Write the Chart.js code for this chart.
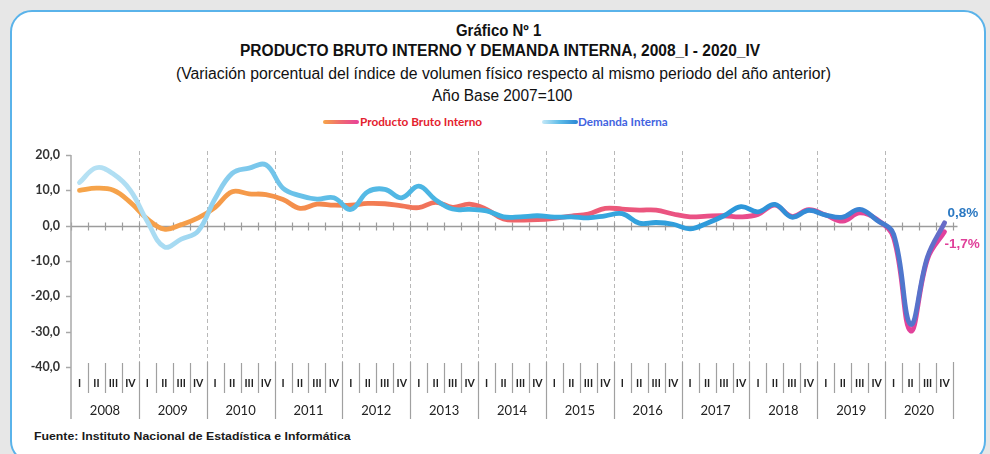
<!DOCTYPE html>
<html>
<head>
<meta charset="utf-8">
<script src="https://cdn.jsdelivr.net/npm/chart.js@4.4.1/dist/chart.umd.min.js"></script>
<style>
html,body{margin:0;padding:0;background:#e7e7e7;width:990px;height:454px;overflow:hidden;}
#card{position:absolute;left:10px;top:10px;width:976px;height:453px;background:#fff;border:2px solid #5ab3ea;border-radius:22px;box-sizing:border-box;}
#cv{position:absolute;left:0;top:0;}
.t{position:absolute;white-space:nowrap;transform-origin:0 0;line-height:1.15;}
.nar{font-family:'Liberation Sans Narrow','Arial Narrow','Liberation Sans',Arial,sans-serif;color:#111;}
.leg{font-family:Lato,'Open Sans',sans-serif;font-weight:bold;font-size:11px;}
.sw{position:absolute;height:4px;border-radius:2px;}
</style>
</head>
<body>
<div id="card"></div>
<span class="t nar" style="font-weight:bold;font-size:16px" data-x="456" data-cy="31" data-w="85">Gráfico Nº 1</span>
<span class="t nar" style="font-weight:bold;font-size:16px" data-x="240" data-cy="51" data-w="520">PRODUCTO BRUTO INTERNO Y DEMANDA INTERNA, 2008_I - 2020_IV</span>
<span class="t nar" style="font-size:16px" data-x="176" data-cy="74" data-w="655">(Variación porcentual del índice de volumen físico respecto al mismo periodo del año anterior)</span>
<span class="t nar" style="font-size:16px" data-x="432" data-cy="96" data-w="140">Año Base 2007=100</span>
<div class="sw" style="left:323px;top:120px;width:36px;background:linear-gradient(90deg,#f6a548,#ef6a70,#e8409a);"></div>
<span class="t leg" style="color:#e4222e" data-x="360" data-cy="122" data-w="122">Producto Bruto Interno</span>
<div class="sw" style="left:542px;top:120px;width:36px;background:linear-gradient(90deg,#c4e8f7,#5cbbe8,#2a86d4);"></div>
<span class="t leg" style="color:#4263df" data-x="578" data-cy="122" data-w="90">Demanda Interna</span>
<span class="t" style="font-family:'Liberation Sans',Arial,sans-serif;font-weight:bold;font-size:10.5px;color:#1a1a1a" data-x="34" data-cy="436" data-w="317">Fuente: Instituto Nacional de Estadística e Informática</span>
<canvas id="cv" width="990" height="454"></canvas>
<script>
// ---- data ----
const years = ['2008','2009','2010','2011','2012','2013','2014','2015','2016','2017','2018','2019','2020'];
const quarterNames = ['I','II','III','IV'];
const yTicks = [-40,-30,-20,-10,0,10,20];
const pbi = [
  10.0, 10.6, 10.0, 6.6,
  1.9, -1.0, 0.3, 2.2,
  5.2, 9.6, 9.0, 8.8,
  7.4, 4.9, 6.1, 5.8,
  5.8, 6.3, 6.2, 5.6,
  5.1, 6.6, 5.2, 6.1,
  4.6, 1.9, 1.6, 1.7,
  2.1, 2.7, 3.3, 4.9,
  4.7, 4.4, 4.4, 3.3,
  2.5, 2.7, 2.8, 2.5,
  3.2, 5.8, 2.6, 4.5,
  3.0, 1.3, 3.6, 1.8,
  -3.4, -29.8, -9.4, -1.7
];
const demanda = [
  12.2, 16.4, 14.6, 10.0,
  1.2, -6.0, -3.8, -1.5,
  7.7, 14.8, 16.3, 17.2,
  10.6, 8.5, 7.5, 7.9,
  4.6, 9.6, 10.3, 7.9,
  11.2, 7.3, 4.7, 4.6,
  4.2, 2.5, 2.5, 2.8,
  2.4, 2.5, 2.2, 2.8,
  3.4, 0.7, 0.9, 0.4,
  -0.9, 0.7, 2.8, 5.4,
  3.9, 6.0, 2.4, 4.3,
  3.0, 2.4, 4.6, 1.6,
  -2.4, -27.9, -8.8, 0.8
];
const endLabels = ['-1,7%', '0,8%'];

// ---- build ----
const categories = [];
years.forEach(y => quarterNames.forEach(q => categories.push(q)));

// fit texts
document.querySelectorAll('.t').forEach(el => {
  const w = el.offsetWidth, h = el.offsetHeight;
  const tw = parseFloat(el.dataset.w);
  el.style.left = el.dataset.x + 'px';
  el.style.top = (parseFloat(el.dataset.cy) - h / 2) + 'px';
  el.style.transform = 'scaleX(' + (tw / w) + ')';
});

function grad(chart, stops, fb) {
  const ca = chart.chartArea;
  if (!ca) return fb;
  const g = chart.ctx.createLinearGradient(ca.left, 0, ca.right, 0);
  stops.forEach(s => g.addColorStop(s[0], s[1]));
  return g;
}
const pbiStops = [[0,'#f6a54a'],[0.2,'#f59a4a'],[0.32,'#f3804f'],[0.45,'#ef6b62'],[0.6,'#ec5a78'],[0.8,'#e84a90'],[1,'#e0409e']];
const ddStops = [[0,'#b8e2f4'],[0.12,'#a6daf2'],[0.2,'#7cc8ec'],[0.3,'#5bbce6'],[0.5,'#3caee0'],[0.75,'#2c98da'],[0.9,'#3a82d2'],[1,'#6c68c6']];

function line(ctx, x1, y1, x2, y2) { ctx.beginPath(); ctx.moveTo(x1, y1); ctx.lineTo(x2, y2); ctx.stroke(); }

const decor = {
  id: 'decor',
  beforeDatasetsDraw(chart) {
    const { ctx, chartArea: ca, scales } = chart;
    const x = scales.x, y = scales.y;
    const step = x.getPixelForValue(1) - x.getPixelForValue(0);
    const b = i => Math.round(x.getPixelForValue(0) - step / 2 + i * step) + 0.5;
    ctx.save();
    ctx.strokeStyle = '#b8b8b8'; ctx.lineWidth = 1; ctx.setLineDash([4, 3]);
    for (let k = 1; k < years.length; k++) line(ctx, b(4 * k), ca.top - 4, b(4 * k), ca.bottom - 5);
    ctx.setLineDash([]);
    const y0 = Math.round(y.getPixelForValue(0)) + 0.5;
    ctx.strokeStyle = '#9c9c9c'; ctx.lineWidth = 1.5;
    line(ctx, ca.left, y0, b(categories.length) + 4, y0);
    ctx.lineWidth = 1.2;
    for (let i = 0; i <= categories.length; i++) line(ctx, b(i), y0 - 4, b(i), y0 + 4);
    // y axis
    ctx.strokeStyle = '#a8a8a8'; ctx.lineWidth = 1.5;
    line(ctx, ca.left, ca.top, ca.left, 419);
    yTicks.forEach(v => { const py = Math.round(y.getPixelForValue(v)) + 0.5; line(ctx, ca.left - 5, py, ca.left, py); });
    // category separators
    ctx.strokeStyle = '#a0a0a0'; ctx.lineWidth = 1.2;
    for (let i = 0; i <= categories.length; i++) {
      if (i % 4 === 0) { if (i > 0) line(ctx, b(i), ca.bottom - 5, b(i), 419); }
      else line(ctx, b(i), ca.bottom - 4, b(i), 393);
    }
    ctx.restore();
  },
  afterDatasetsDraw(chart) {
    const { ctx } = chart;
    ctx.save();
    ctx.font = 'bold 13.5px "Liberation Sans", Arial, sans-serif';
    ctx.textBaseline = 'middle';
    const mp = chart.getDatasetMeta(0).data[pbi.length - 1];
    const md = chart.getDatasetMeta(1).data[demanda.length - 1];
    ctx.fillStyle = '#e0409a';
    ctx.fillText(endLabels[0], mp.x, mp.y + 13);
    ctx.fillStyle = '#2a78c2';
    ctx.fillText(endLabels[1], md.x + 3, md.y - 10);
    ctx.restore();
  }
};

new Chart(document.getElementById('cv'), {
  type: 'line',
  data: {
    labels: categories,
    datasets: [
      { label: 'Producto Bruto Interno', data: pbi, order: 1,
        borderColor: c => grad(c.chart, pbiStops, '#ef6b62'),
        borderWidth: 4.8, pointRadius: 0, tension: 0.4, borderCapStyle: 'round', borderJoinStyle: 'round', fill: false },
      { label: 'Demanda Interna', data: demanda, order: 0,
        borderColor: c => grad(c.chart, ddStops, '#3caee0'),
        borderWidth: 4.8, pointRadius: 0, tension: 0.4, borderCapStyle: 'round', borderJoinStyle: 'round', fill: false }
    ]
  },
  options: {
    responsive: false, animation: false,
    layout: { padding: { left: 0, top: 155, right: 37, bottom: 33 } },
    plugins: { legend: { display: false }, tooltip: { enabled: false }, title: { display: false } },
    scales: {
      x: { type: 'category', offset: true, position: 'bottom',
        grid: { display: false, drawTicks: false }, border: { display: false },
        ticks: { autoSkip: false, maxRotation: 0, minRotation: 0, padding: 10, color: '#222',
          font: { family: 'Lato', size: 10.5, weight: 'bold' } },
        afterFit(s) { s.height = 30; } },
      x2: { type: 'category', labels: years, offset: true, position: 'bottom',
        grid: { display: false, drawTicks: false }, border: { display: false },
        ticks: { autoSkip: false, maxRotation: 0, minRotation: 0, padding: 6, color: '#222',
          font: { family: 'Lato', size: 13 } },
        afterFit(s) { s.height = 24; } },
      y: { min: -40, max: 20,
        grid: { display: false, drawTicks: false }, border: { display: false },
        afterBuildTicks(s) { s.ticks = yTicks.map(v => ({ value: v })); },
        ticks: { padding: 11, color: '#333', font: { family: 'Lato', size: 12.5, weight: 'bold' },
          callback: v => v.toFixed(1).replace('.', ',') },
        afterFit(s) { s.width = 71; } }
    }
  },
  plugins: [decor]
});
</script>
</body>
</html>
